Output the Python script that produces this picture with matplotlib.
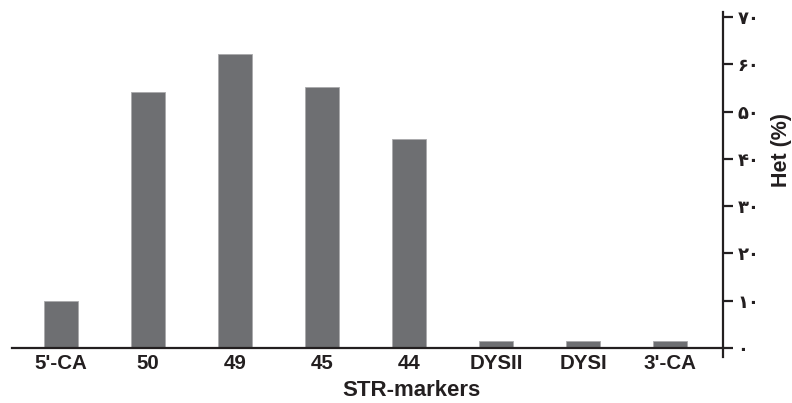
import matplotlib
matplotlib.use("Agg")
import matplotlib.pyplot as plt

categories = ["5'-CA", "50", "49", "45", "44", "DYSII", "DYSI", "3'-CA"]
het_values = [10.0, 54.1, 62.2, 55.1, 44.3, 1.5, 1.5, 1.5]
ytick_values = [0, 10, 20, 30, 40, 50, 60, 70]
ytick_labels = ["۰", "۱۰", "۲۰", "۳۰", "۴۰", "۵۰", "۶۰", "۷۰"]

fig = plt.figure(figsize=(7.92, 4.03), dpi=100)
ax = fig.add_axes([12/792, (403-357)/403, (723-12)/792, (357-12)/403])

x = list(range(len(categories)))
ax.bar(x, het_values, width=0.39, color="#6e6f72", edgecolor="#a9aaac", linewidth=0.6, zorder=2)

ax.set_xlim(-0.563, 7.609)
ax.set_ylim(-1.9, 71.06)

for s in ["top", "left"]:
    ax.spines[s].set_visible(False)
ax.spines["bottom"].set_position(("data", 0))
ax.spines["bottom"].set_linewidth(1.6)
ax.spines["right"].set_linewidth(1.6)
ax.spines["bottom"].set_color("#231f20")
ax.spines["right"].set_color("#231f20")
ax.spines["bottom"].set_zorder(3)

ax.set_xticks(x)
ax.set_xticklabels(categories, fontfamily="Liberation Sans", fontweight="bold", fontsize=14.8, color="#231f20")
ax.tick_params(axis="x", length=0, pad=4)

ax.yaxis.tick_right()
ax.set_yticks(ytick_values)
ax.set_yticklabels(ytick_labels, fontfamily="DejaVu Sans", fontweight="bold", fontsize=13, color="#231f20")
ax.tick_params(axis="y", direction="out", length=7.5, width=1.6, pad=3, color="#231f20")

ax.set_xlabel("STR-markers", fontfamily="Liberation Sans", fontweight="bold", fontsize=16, color="#231f20")
ax.xaxis.set_label_coords((411-12)/711, (357-391)/345)
ax.xaxis.label.set_va("center")

ax.yaxis.set_label_position("right")
ax.set_ylabel("Het (%)", fontfamily="Liberation Sans", fontweight="bold", fontsize=15.5, color="#231f20", rotation=90)
ax.yaxis.set_label_coords((782-12)/711, (357-150)/345)
ax.yaxis.label.set_va("center")
ax.yaxis.label.set_ha("center")

fig.savefig("out.png", dpi=100)
